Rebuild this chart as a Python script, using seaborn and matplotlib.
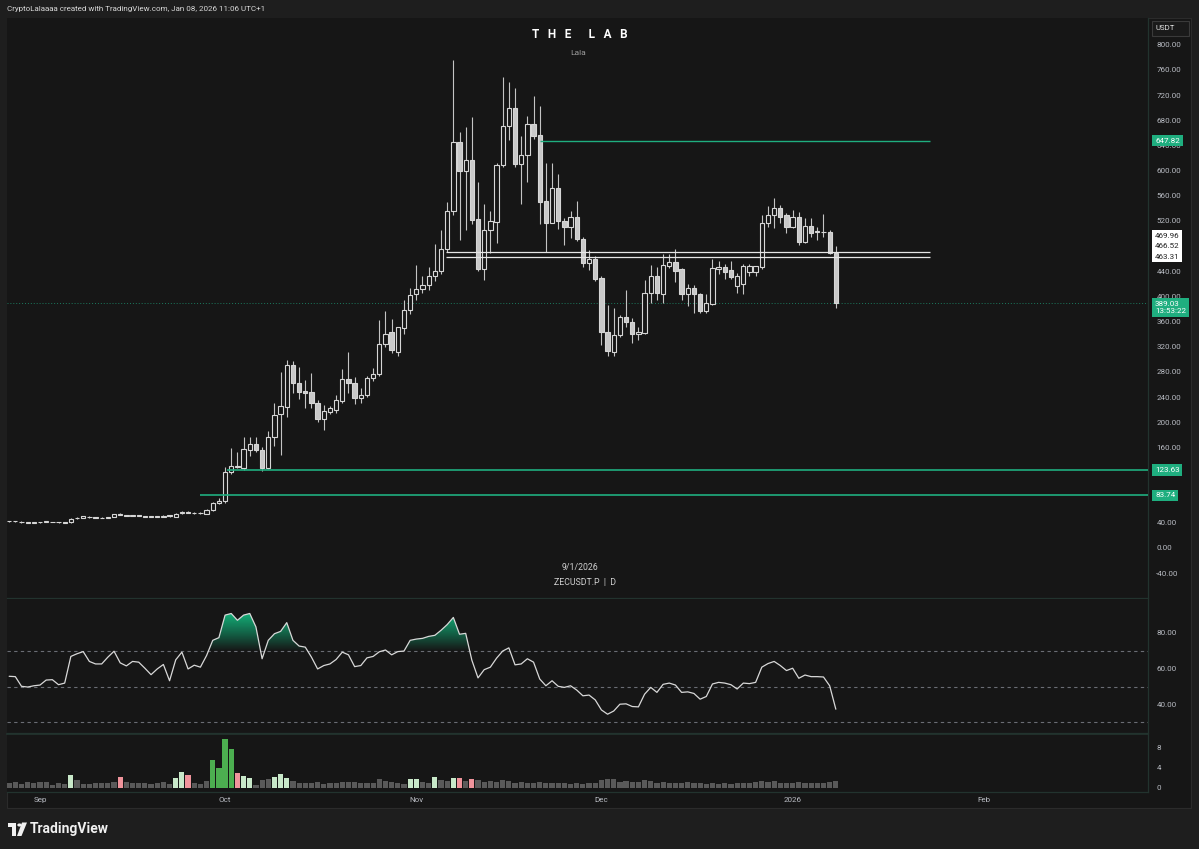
import numpy as np
import pandas as pd
import matplotlib
matplotlib.use("Agg")
import matplotlib.pyplot as plt
import matplotlib.transforms as mtransforms
from matplotlib.colors import LinearSegmentedColormap
from matplotlib.path import Path
from matplotlib.patches import Rectangle, Polygon, Circle
import seaborn as sns

# ZECUSDT.P daily, 2025-08-27 .. 2026-01-08
start = "2025-08-27"

opens = [42.5, 42.4, 40.6, 40.5, 40.3, 40.8, 41.9, 41.4, 40.9, 40.4,
         40.8, 47.0, 47.8, 49.8, 48.9, 47.8, 48.0, 49.8, 53.5, 52.5,
         51.2, 52.0, 51.0, 49.8, 49.9, 49.8, 52.0, 49.3, 55.0, 57.2,
         56.2, 55.0, 54.6, 60.4, 71.0, 74, 121, 131, 127, 156,
         165, 156, 127, 177, 213, 224, 291, 262, 250, 248,
         230, 205, 217, 220, 233, 268, 263, 238, 243, 270,
         277, 324, 343, 312, 350, 378, 404, 412, 418, 432,
         441, 475, 535, 646, 600, 617, 523, 443, 506, 519,
         609, 671, 699, 610, 624, 674, 657, 551, 517, 573,
         520, 511, 526, 491, 453, 460, 429, 343, 312, 338,
         368, 360, 341, 342, 405, 432, 404, 449, 455, 443,
         404, 413, 404, 376, 388, 443, 447, 442, 416, 420,
         438, 438, 446, 516, 530, 540, 530, 511, 527, 487,
         512, 504, 503, 503, 469]
highs = [43.5, 43.5, 43.0, 41.2, 41.0, 41.5, 42.8, 42.0, 41.6, 41.2,
         48.0, 49.2, 51.6, 50.5, 49.2, 48.8, 49.5, 54.5, 55.0, 53.2,
         52.8, 52.6, 51.4, 50.6, 50.4, 52.6, 53.0, 55.8, 59.0, 58.6,
         57.0, 56.5, 61.5, 73.0, 79.0, 129, 159, 153, 177, 176,
         177, 160, 186, 230, 280, 299, 297, 287, 267, 278,
         235, 228, 226, 244, 285, 311, 272, 254, 273, 286,
         362, 376, 364, 352, 395, 413, 450, 432, 447, 483,
         506, 550, 776, 661, 669, 686, 582, 547, 536, 612,
         749, 741, 731, 655, 687, 718, 702, 612, 612, 594,
         525, 536, 551, 495, 474, 465, 433, 386, 382, 371,
         410, 365, 352, 426, 450, 447, 468, 468, 476, 445,
         420, 418, 406, 404, 459, 457, 451, 457, 437, 452,
         452, 448, 529, 544, 556, 545, 533, 538, 534, 525,
         524, 510, 531, 505, 480]
lows = [41.5, 41.8, 40.0, 39.6, 39.6, 40.0, 41.2, 40.6, 40.2, 39.6,
        40.3, 46.5, 47.2, 48.4, 47.2, 47.0, 47.5, 49.3, 51.8, 50.4,
        50.6, 50.3, 49.2, 49.1, 49.0, 49.4, 50.0, 49.0, 54.5, 55.4,
        54.6, 54.4, 54.0, 59.5, 70.0, 72, 118, 127, 124, 146,
        152, 123, 125, 162, 148, 208, 247, 237, 222, 222,
        201, 188, 213, 215, 230, 246, 229, 230, 240, 266,
        273, 320, 310, 305, 340, 372, 394, 405, 410, 425,
        435, 470, 530, 490, 506, 515, 440, 426, 469, 485,
        605, 649, 606, 547, 582, 650, 515, 471, 517, 507,
        482, 493, 488, 447, 442, 425, 322, 306, 305, 336,
        352, 326, 330, 340, 390, 394, 390, 445, 423, 394,
        385, 374, 373, 373, 386, 435, 427, 428, 405, 404,
        432, 432, 443, 510, 508, 517, 501, 508, 482, 485,
        495, 490, 495, 467, 381]
closes = [42.4, 42.4, 41.8, 40.3, 40.3, 40.8, 41.9, 41.3, 40.8, 40.3,
          46.7, 48.4, 51.0, 48.9, 47.8, 47.9, 48.9, 53.5, 52.5, 51.0,
          52.0, 51.0, 49.8, 49.9, 49.8, 51.5, 50.8, 54.6, 56.7, 56.2,
          55.1, 55.8, 60.4, 71.0, 75.0, 121, 130, 129, 157, 165,
          155, 127, 177, 212, 226, 291, 262, 248, 247, 230,
          205, 218, 222, 235, 268, 263, 238, 244, 271, 277,
          324, 341, 315, 351, 378, 402, 412, 418, 433, 441,
          475, 535, 646, 599, 617, 522, 443, 506, 520, 609,
          671, 699, 610, 625, 674, 655, 550, 517, 573, 520,
          511, 526, 491, 453, 460, 428, 343, 313, 339, 368,
          360, 341, 343, 405, 432, 405, 450, 455, 441, 404,
          413, 404, 376, 389, 445, 447, 438, 431, 432, 448,
          448, 448, 516, 530, 540, 527, 511, 527, 487, 512,
          501, 503, 502, 469, 389.03]

# volume (millions) and the highlight colour of a few bars
volumes = [0.9, 1.2, 0.7, 1.1, 1.0, 1.1, 1.1, 0.5, 0.9, 0.7,
           2.5, 1.5, 0.7, 0.7, 0.9, 0.9, 1.0, 1.1, 2.1, 1.1,
           0.9, 0.9, 0.9, 0.7, 0.9, 1.2, 0.7, 1.9, 3.1, 2.5,
           0.9, 0.7, 1.4, 5.5, 3.9, 9.7, 7.7, 2.9, 2.3, 1.9,
           0.5, 1.5, 1.7, 2.2, 2.7, 1.9, 1.4, 1.0, 1.0, 0.9,
           1.1, 0.7, 0.9, 1.0, 1.2, 1.1, 1.1, 1.0, 1.0, 0.9,
           1.7, 1.4, 1.1, 0.9, 0.7, 1.7, 1.7, 1.1, 1.0, 2.2,
           1.5, 1.4, 2.0, 2.0, 1.4, 1.8, 1.5, 1.2, 1.4, 1.2,
           1.5, 1.4, 1.0, 1.1, 0.9, 1.0, 1.1, 0.9, 1.0, 0.9,
           0.9, 0.7, 0.9, 0.7, 0.9, 0.9, 1.5, 1.7, 1.7, 1.2,
           1.4, 1.1, 1.1, 1.5, 1.4, 1.0, 1.1, 0.9, 0.9, 0.9,
           1.1, 0.9, 0.9, 0.7, 1.0, 0.7, 0.9, 0.7, 0.9, 0.9,
           0.9, 1.1, 1.4, 1.2, 1.3, 0.9, 0.9, 1.0, 1.1, 0.9,
           0.9, 1.0, 1.0, 1.2, 1.4]
vol_marks = {10: "l", 18: "r", 27: "l", 28: "l", 29: "r", 33: "d", 34: "d",
             35: "d", 36: "d", 37: "r", 38: "l", 39: "l", 43: "l", 44: "l",
             45: "l", 65: "l", 66: "l", 69: "l", 72: "l", 73: "r", 75: "r"}

rsi = [55.8, 55.6, 50.2, 49.8, 50.5, 50.9, 53.7, 53.9, 51.1, 52.0,
       66.9, 68.4, 69.6, 64.1, 62.7, 62.7, 66.5, 69.8, 63.3, 61.6,
       64.1, 63.7, 60.3, 56.7, 59.9, 62.4, 53.3, 65.0, 69.3, 59.9,
       62.0, 60.9, 67.4, 75.9, 77.4, 90.0, 90.9, 87.1, 90.0, 90.9,
       83.4, 65.6, 75.9, 79.6, 80.9, 85.8, 75.9, 72.7, 72.1, 66.5,
       59.9, 61.8, 62.7, 65.2, 69.3, 67.8, 61.2, 61.8, 66.1, 66.9,
       69.5, 70.5, 67.8, 69.6, 69.9, 75.9, 76.6, 77.0, 78.1, 78.7,
       81.5, 84.7, 88.7, 79.3, 79.8, 64.8, 54.9, 59.5, 60.9, 65.9,
       69.9, 71.7, 62.2, 62.7, 65.6, 63.7, 54.3, 50.5, 53.3, 50.2,
       49.6, 50.5, 48.1, 44.9, 45.3, 42.6, 37.0, 34.6, 36.4, 40.2,
       40.4, 38.9, 38.7, 45.8, 49.6, 46.8, 51.3, 52.0, 50.9, 46.8,
       47.1, 46.2, 43.0, 44.5, 51.5, 52.4, 52.0, 51.1, 48.7, 52.0,
       51.7, 52.4, 60.9, 62.9, 64.1, 61.8, 59.0, 60.3, 54.7, 56.5,
       55.6, 55.6, 55.4, 50.5, 37.4]

# drawn levels
support_levels = [123.63, 83.74]
resistance_level = 647.82
zone = [469.96, 466.52, 463.31]
last_price = 389.03
countdown = "13:53:22"

month_ticks = ["2025-09-01", "2025-10-01", "2025-11-01", "2025-12-01", "2026-01-01", "2026-02-01"]
month_labels = ["Sep", "Oct", "Nov", "Dec", "2026", "Feb"]

BG = "#161616"
OUTER = "#1e1e1e"
SEP = "#22332e"
TXT = "#b8bbc2"
GREEN = "#1fae7f"
WHITE = "#d6d6d6"

sns.set_theme(style="dark", rc={"axes.facecolor": BG, "figure.facecolor": OUTER,
                                "axes.grid": False, "text.color": TXT,
                                "xtick.color": TXT, "ytick.color": TXT})
plt.rcParams["font.family"] = ["Roboto", "DejaVu Sans"]

o = np.array(opens, float)
h = np.array(highs, float)
l = np.array(lows, float)
c = np.array(closes, float)
v = np.array(volumes, float)
r = np.array(rsi, float)
dates = pd.date_range(start, periods=len(c), freq="D")
x = matplotlib.dates.date2num(dates)
x0 = x[0]

W, H = 1199, 849
fig = plt.figure(figsize=(W / 100, H / 100), dpi=100)
fig.patch.set_facecolor(OUTER)


def box(left, top, right, bottom):
    return [left / W, 1 - bottom / H, (right - left) / W, (bottom - top) / H]


fig.add_artist(Rectangle((7 / W, 1 - 808 / H), 1184 / W, 790 / H, transform=fig.transFigure,
                         facecolor=BG, edgecolor="#2b2b2b", lw=0.8, zorder=0))

ax_p = fig.add_axes(box(7, 18, 1148, 598))
ax_r = fig.add_axes(box(7, 599, 1148, 733))
ax_v = fig.add_axes(box(7, 734, 1148, 792))

xlim = (x0 - 0.35, x0 + 184.6)
for ax in (ax_p, ax_r, ax_v):
    ax.set_facecolor(BG)
    ax.set_xlim(xlim)
    for side in ("left", "top"):
        ax.spines[side].set_visible(False)
    for side in ("right", "bottom"):
        ax.spines[side].set_color(SEP)
        ax.spines[side].set_linewidth(0.9)
    ax.yaxis.tick_right()
    ax.tick_params(axis="y", length=0, pad=6, labelsize=5.8, labelcolor=TXT)
    ax.tick_params(axis="x", length=0)
    ax.set_xticks([])
ax_v.spines["top"].set_visible(True)
ax_v.spines["top"].set_color(SEP)

# ---- price panel
up = c >= o
body = c - o
body = np.where(np.abs(body) < 0.5, 0.5, body)
ax_p.vlines(x, l, h, color="#c4c4c4", lw=0.8, zorder=2)
ax_p.bar(x[up], body[up], bottom=o[up], width=0.7, facecolor=BG, edgecolor=WHITE, lw=0.8, zorder=3)
ax_p.bar(x[~up], body[~up], bottom=o[~up], width=0.7, facecolor="#c9c9c9", edgecolor=WHITE, lw=0.8, zorder=3)

ax_p.hlines(resistance_level, x[86], x0 + 149.3, color=GREEN, lw=1.0, zorder=4)
ax_p.hlines(support_levels[0], x[35] + 0.3, xlim[1], color=GREEN, lw=1.2, zorder=4)
ax_p.hlines(support_levels[1], x[31] - 0.1, xlim[1], color=GREEN, lw=1.2, zorder=4)
ax_p.hlines([zone[0], zone[2]], x[71] - 0.2, x0 + 149.3, color="#e6e6e6", lw=0.9, zorder=4)
ax_p.axhline(last_price, color="#1b7a5e", lw=0.7, ls=(0, (1, 2)), zorder=1)

price_ticks = np.arange(-40, 801, 40)
ax_p.set_ylim(-79.5, 842.6)
ax_p.set_yticks(price_ticks)
# the level tags on the scale hide the ticks they sit on
ax_p.set_yticklabels(["" if t in (80, 120) else f"{t:.2f}" for t in price_ticks])


def axis_label(ax, y, text, fc, tc, dy_px=0):
    tr = mtransforms.blended_transform_factory(ax.transAxes, ax.transData)
    tr = tr + mtransforms.ScaledTranslation(0, dy_px / 100, fig.dpi_scale_trans)
    ax.text(1.0 + 7 / 1141, y, text, transform=tr, ha="left", va="center", fontsize=5.8,
            color=tc, linespacing=1.25, zorder=10, clip_on=False,
            bbox=dict(boxstyle="square,pad=0.35", facecolor=fc, edgecolor="none"))


axis_label(ax_p, resistance_level, f"{resistance_level:.2f}", GREEN, "white")
axis_label(ax_p, support_levels[0], f"{support_levels[0]:.2f}", GREEN, "white")
axis_label(ax_p, support_levels[1], f"{support_levels[1]:.2f}", GREEN, "white")
axis_label(ax_p, zone[2], f"{zone[2]:.2f}", "white", "#202020", 0)
axis_label(ax_p, zone[2], f"{zone[1]:.2f}", "white", "#202020", 10.5)
axis_label(ax_p, zone[2], f"{zone[0]:.2f}", "white", "#202020", 21)
axis_label(ax_p, last_price, f"{last_price:.2f}\n{countdown}", GREEN, "white", -4.5)

# ---- RSI panel
sns.lineplot(x=x, y=r, ax=ax_r, color="#d8d8d8", lw=0.9, zorder=5)
fill = ax_r.fill_between(x, r, 70, where=r > 70, interpolate=True, facecolor="none", edgecolor="none")
clip = Path.make_compound_path(*fill.get_paths())
cmap = LinearSegmentedColormap.from_list("ob", [(0.07, 0.62, 0.43, 0.0), (0.07, 0.62, 0.43, 0.6),
                                                 (0.08, 0.70, 0.48, 1.0)])
grad = np.linspace(0, 1, 256).reshape(-1, 1)
im = ax_r.imshow(grad, extent=[x[0], x[-1], 70, 91], origin="lower", aspect="auto", cmap=cmap, zorder=2)
im.set_clip_path(clip, transform=ax_r.transData)
for lvl in (70, 50, 30):
    ax_r.axhline(lvl, color="#6a6d74", lw=0.8, ls=(0, (3, 3)), zorder=1)
ax_r.set_xlim(xlim)
ax_r.set_ylim(24.1, 99.0)
ax_r.set_yticks([40, 60, 80])
ax_r.set_yticklabels(["40.00", "60.00", "80.00"])
ax_r.set_xlabel("")
ax_r.set_ylabel("")

# ---- volume panel
palette = {"n": "#595959", "l": "#c8e8c9", "d": "#4caf50", "r": "#f0949c"}
vcol = [palette[vol_marks.get(i, "n")] for i in range(len(v))]
ax_v.bar(x, v, width=0.84, color=vcol, edgecolor="none", linewidth=0, zorder=3)
ax_v.set_ylim(-0.86, 10.6)
ax_v.set_yticks([0, 4, 8])
ax_v.set_yticklabels(["0", "4", "8"])
ax_v.set_xticks(matplotlib.dates.date2num(pd.to_datetime(month_ticks)))
ax_v.set_xticklabels(month_labels)
ax_v.tick_params(axis="x", length=0, pad=3.5, labelsize=5.8, labelcolor=TXT)

# ---- texts and chrome
fig.text(7 / W, 1 - 9 / H, "CryptoLalaaaa created with TradingView.com, Jan 08, 2026 11:06 UTC+1",
         ha="left", va="center", fontsize=5.8, color="#d8d8d8")
fig.text(580 / W, 1 - 34 / H, "T   H   E      L   A   B", ha="center", va="center", fontsize=8.5,
         fontweight="bold", color="white")
fig.text(578 / W, 1 - 53 / H, "Lala", ha="center", va="center", fontsize=6, color="#9c9c9c")
fig.text(580 / W, 1 - 568 / H, "9/1/2026", ha="center", va="center", fontsize=6.3, color="#cfcfcf")
fig.text(585 / W, 1 - 583 / H, "ZECUSDT.P  |  D", ha="center", va="center", fontsize=6.3, color="#cfcfcf")

fig.add_artist(Rectangle((1152 / W, 1 - 36 / H), 37 / W, 15 / H, transform=fig.transFigure,
                         facecolor="#1a1a1a", edgecolor="#3a3a3a", lw=0.8))
fig.text(1156 / W, 1 - 28.5 / H, "USDT", ha="left", va="center", fontsize=5.6, color="#e0e0e0")

# TradingView mark
logo = [Rectangle((8 / W, 1 - 827 / H), 8 / W, 4.5 / H),
        Rectangle((11.5 / W, 1 - 836 / H), 4.5 / W, 13.5 / H),
        Circle((19.5 / W, 1 - 825 / H), 2.2 / W),
        Polygon([(22 / W, 1 - 822.5 / H), (27 / W, 1 - 822.5 / H), (21.5 / W, 1 - 836 / H),
                 (17 / W, 1 - 836 / H)])]
for p in logo:
    p.set_transform(fig.transFigure)
    p.set_facecolor("#f0f0f0")
    p.set_edgecolor("none")
    fig.add_artist(p)
fig.text(30 / W, 1 - 829 / H, "TradingView", ha="left", va="center", fontsize=10,
         fontweight="bold", color="#f0f0f0")

fig.savefig("out.png", dpi=100, facecolor=OUTER)
